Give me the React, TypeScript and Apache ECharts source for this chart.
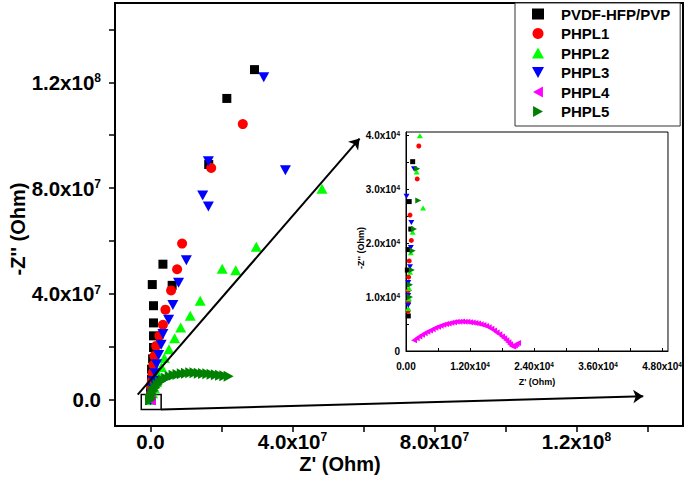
import React, { useEffect, useRef } from "react";
import * as echarts from "echarts";

// ---------- DATA ----------
const seriesNames = ["PVDF-HFP/PVP", "PHPL1", "PHPL2", "PHPL3", "PHPL4", "PHPL5"];

// Main plot points, [Z', -Z''] in units of 1e6 Ohm
const pvdfMain = [[29.3,124.8],[21.5,113.9],[16.4,88.9],[3.5,51.2],[6.1,43.2],[0.5,43.5],[0.85,35.5],[0.85,29.0],[0.85,24.1],[0.85,19.7],[0.6,15.4],[0.3,11.5],[0.3,7.7],[0.1,4.7],[0.0,2.4]];
const phpl1Main = [[26.0,104.2],[17.1,87.6],[8.9,59.0],[7.5,49.3],[5.8,41.3],[4.2,34.0],[3.5,28.3],[2.5,24.1],[1.6,20.3],[1.1,16.5],[0.85,13.1],[0.6,10.0],[0.4,7.0],[0.3,4.3],[0.14,2.4]];
const phpl2Main = [[48.3,79.7],[29.8,57.8],[24.0,48.9],[20.2,49.5],[14.0,37.4],[11.2,31.7],[8.5,27.3],[6.8,23.2],[5.2,19.0],[3.9,15.7],[3.1,12.3],[2.3,9.3],[1.7,6.6],[1.1,4.3],[0.6,2.4]];
const phpl3Main = [[31.9,121.9],[16.3,90.1],[38.0,86.7],[14.7,77.2],[16.3,73.0],[10.1,52.7],[7.9,44.2],[6.3,35.8],[5.1,30.2],[3.5,24.8],[3.0,20.7],[2.3,16.9],[1.7,13.4],[1.3,10.0],[0.85,7.0],[0.6,4.3],[0.3,2.0]];
const phpl4Main: number[][] = [];
const phpl5Main = [[0.2,0.8],[0.5,2.0],[0.9,3.3],[1.4,4.5],[2.0,5.6],[2.7,6.6],[3.5,7.4],[4.4,8.1],[5.4,8.7],[6.5,9.2],[7.6,9.5],[8.8,9.8],[10.0,10.0],[11.2,10.1],[12.4,10.1],[13.6,10.0],[14.8,9.9],[16.0,9.8],[17.2,9.6],[18.4,9.4],[19.6,9.2],[20.8,9.0],[22.0,8.8]];

// Inset points, [Z', -Z''] in units of 1e3 Ohm
const pvdfInset = [[1.25,35.1],[0.6,27.7],[0.9,22.6],[0.43,18.8],[0.25,15.0],[0.43,6.5]];
const phpl1Inset = [[2.4,38.0],[2.1,31.9],[0.75,25.2],[1.0,20.5],[0.6,16.7],[0.5,13.7],[0.43,11.2],[0.43,9.1],[0.4,7.4]];
const phpl2Inset = [[2.6,39.9],[2.0,33.2],[3.2,26.5],[1.25,22.0],[0.9,18.2],[0.75,14.6],[0.6,11.6],[0.56,9.7],[0.43,7.9]];
const phpl3Inset = [[1.5,33.8],[0.1,28.7],[1.0,23.8],[0.9,19.2],[0.75,15.6],[0.43,12.7],[0.43,10.3],[0.43,8.5]];
const phpl4InsetX = [1.5,2.0,2.5,3.0,3.5,4.0,4.5,5.0,5.5,6.0,6.5,7.0,7.5,8.0,8.5,9.0,9.5,10.0,10.5,11.0,11.5,12.0,12.5,13.0,13.5,14.0,14.5,15.0,15.5,16.0,16.5,17.0,17.5,18.0,18.4,18.8,19.2,19.5,19.8,20.1,20.4,20.7,21.0];
const phpl4InsetY = [2.0,2.35,2.7,3.0,3.3,3.55,3.8,4.05,4.3,4.5,4.7,4.85,5.0,5.12,5.25,5.33,5.4,5.43,5.45,5.43,5.4,5.35,5.28,5.2,5.1,4.95,4.8,4.62,4.4,4.12,3.8,3.45,3.1,2.7,2.35,2.0,1.6,1.25,0.95,0.85,1.0,1.25,1.5];
const phpl5Inset = [[2.1,33.8],[2.3,27.9],[1.5,22.6],[1.25,18.6],[1.1,15.0],[0.75,12.3],[0.75,10.0]];

// Tick labels
const mainTickValues = [0, 4e7, 8e7, 1.2e8];
const mainTickLabels = ["0.0", "4.0x10^7", "8.0x10^7", "1.2x10^8"];
const mainTickMarks = [0, 2e7, 4e7, 6e7, 8e7, 1e8, 1.2e8, 1.4e8];
const insetXTickValues = [0, 1.2e4, 2.4e4, 3.6e4, 4.8e4];
const insetXTickLabels = ["0.00", "1.20x10^4", "2.40x10^4", "3.60x10^4", "4.80x10^4"];
const insetXTickMarks = [0, 6e3, 1.2e4, 1.8e4, 2.4e4, 3.0e4, 3.6e4, 4.2e4, 4.8e4];
const insetYTickValues = [0, 1e4, 2e4, 3e4, 4e4];
const insetYTickLabels = ["0", "1.0x10^4", "2.0x10^4", "3.0x10^4", "4.0x10^4"];
const insetYTickMarks = [0, 5e3, 1e4, 1.5e4, 2e4, 2.5e4, 3e4, 3.5e4, 4e4];

// Annotation (arrows and zoom box) in data coordinates (Ohm)
const arrowLines = [
  [[-3.6e6, 1.9e6], [58.9e6, 98.7e6]],
  [[3.0e6, -3.8e6], [138.8e6, 1.26e6]],
];
const zoomBox = [[-2.6e6, 1.9e6], [3.0e6, -3.8e6]];

// ---------- STYLE ----------
const FONT = "'Liberation Sans', Arial, sans-serif";
const colors = ["#000000", "#ff0000", "#00ff00", "#0000ff", "#ff00ff", "#008000"];
const SYM_DOWN = "path://M0,0L10,0L5,9Z";
const SYM_LEFT = "path://M9,0L9,10L0,5Z";
const SYM_RIGHT = "path://M0,0L9,5L0,10Z";
const symbols = ["rect", "circle", "triangle", SYM_DOWN, SYM_LEFT, SYM_RIGHT];
const mainSizes: any[] = [9, 10, [11, 10], [11, 10], [10, 11], [10, 11]];
const insetSizes: any[] = [5, 5, [6, 5], [6, 5], [6, 6], [6, 6]];

const scale = (arr: number[][], f: number) => arr.map(([x, y]) => [x * f, y * f]);

function richLabel(s: string) {
  const [m, e] = s.split("^");
  return e ? `{m|${m}}{e|${e}}` : `{m|${m}}`;
}
function makeFormatter(vals: number[], labels: string[]) {
  return (v: number) => {
    const i = vals.findIndex((t) => Math.abs(t - v) < 1e-3 * Math.max(1, Math.abs(t)));
    return i >= 0 ? richLabel(labels[i]) : "";
  };
}

export default function App() {
  const ref = useRef<HTMLDivElement>(null);
  useEffect(() => {
    if (!ref.current) return;
    const chart = echarts.init(ref.current, null, { renderer: "svg" });

    const phpl4Inset = phpl4InsetX.map((x, i) => [x, phpl4InsetY[i]]);
    const mains = [pvdfMain, phpl1Main, phpl2Main, phpl3Main, phpl4Main, phpl5Main];
    const insets = [pvdfInset, phpl1Inset, phpl2Inset, phpl3Inset, phpl4Inset, phpl5Inset];
    const combined = mains.map((m, i) => [...scale(m, 1e6), ...scale(insets[i], 1e3)]);

    const mainRich = {
      m: { fontSize: 20.5, fontWeight: "bold", fontFamily: FONT, color: "#000", lineHeight: 20 },
      e: { fontSize: 12, fontWeight: "bold", fontFamily: FONT, color: "#000", lineHeight: 12, verticalAlign: "top" },
    };
    const insetRich = {
      m: { fontSize: 10, fontWeight: "bold", fontFamily: FONT, color: "#000", lineHeight: 11 },
      e: { fontSize: 6.5, fontWeight: "bold", fontFamily: FONT, color: "#000", lineHeight: 7, verticalAlign: "top" },
    };

    const series: any[] = [];
    seriesNames.forEach((name, i) => {
      series.push({
        type: "scatter", name, xAxisIndex: 0, yAxisIndex: 0,
        symbol: symbols[i], symbolSize: mainSizes[i],
        itemStyle: { color: colors[i], opacity: 1 },
        data: combined[i], clip: true, silent: true,
      });
    });
    seriesNames.forEach((name, i) => {
      series.push({
        type: "scatter", name, xAxisIndex: 1, yAxisIndex: 1,
        symbol: symbols[i], symbolSize: insetSizes[i],
        itemStyle: { color: colors[i], opacity: 1 },
        data: combined[i], clip: true, silent: true,
      });
    });
    series.push({
      type: "scatter", name: "annotation", xAxisIndex: 0, yAxisIndex: 0, data: [], silent: true,
      markLine: {
        silent: true, symbol: ["none", "arrow"], symbolSize: 10,
        lineStyle: { color: "#000", width: 2, type: "solid" },
        label: { show: false },
        data: arrowLines.map(([a, b]) => [{ coord: a }, { coord: b }]),
      },
      markArea: {
        silent: true,
        itemStyle: { color: "rgba(0,0,0,0)", borderColor: "#000", borderWidth: 1.5 },
        label: { show: false },
        data: [[{ coord: zoomBox[0] }, { coord: zoomBox[1] }]],
      },
    });

    const mainAxisCommon = (isX: boolean) => ({
      type: "value", gridIndex: 0, min: -1e7, max: 1.5e8,
      splitLine: { show: false },
      axisLine: { show: true, onZero: false, lineStyle: { color: "#000", width: 2 } },
      axisTick: { show: true, inside: false, length: 6, customValues: mainTickMarks, lineStyle: { color: "#000", width: 1.5 } },
      axisLabel: {
        show: true, customValues: mainTickValues, margin: isX ? 5 : 14,
        formatter: makeFormatter(mainTickValues, mainTickLabels), rich: mainRich,
      },
    });

    const option: any = {
      animation: false,
      backgroundColor: "#fff",
      grid: [
        { left: 115, top: 3, width: 568, height: 423, show: true, borderColor: "#000", borderWidth: 2, backgroundColor: "transparent" },
        { left: 406, top: 132, width: 264, height: 219, show: true, borderColor: "#000", borderWidth: 1, backgroundColor: "transparent" },
      ],
      xAxis: [
        mainAxisCommon(true),
        {
          type: "value", gridIndex: 1, min: 0, max: 4.91e4,
          splitLine: { show: false },
          axisLine: { show: true, onZero: false, lineStyle: { color: "#000", width: 1 } },
          axisTick: { show: true, inside: true, length: 3, customValues: insetXTickMarks, lineStyle: { color: "#000", width: 1 } },
          axisLabel: { show: true, customValues: insetXTickValues, margin: 10, formatter: makeFormatter(insetXTickValues, insetXTickLabels), rich: insetRich },
        },
      ],
      yAxis: [
        mainAxisCommon(false),
        {
          type: "value", gridIndex: 1, min: 0, max: 4.06e4,
          splitLine: { show: false },
          axisLine: { show: true, onZero: false, lineStyle: { color: "#000", width: 1 } },
          axisTick: { show: true, inside: true, length: 3, customValues: insetYTickMarks, lineStyle: { color: "#000", width: 1 } },
          axisLabel: { show: true, customValues: insetYTickValues, margin: 6, formatter: makeFormatter(insetYTickValues, insetYTickLabels), rich: insetRich },
        },
      ],
      legend: {
        orient: "vertical", left: 515, top: 3,
        padding: [3.5, 10, 7, 17], itemGap: 4.5, itemWidth: 12, itemHeight: 11,
        backgroundColor: "#fff", borderColor: "#333", borderWidth: 1,
        textStyle: { fontSize: 15, fontWeight: "bold", fontFamily: FONT, color: "#000", lineHeight: 15, padding: [0, 0, 0, 12] },
        selectedMode: false,
        data: seriesNames.map((name, i) => ({ name, icon: symbols[i], itemStyle: { color: colors[i] } })),
      },
      graphic: [
        { type: "text", x: 340, y: 464, style: { text: "Z' (Ohm)", font: `bold 20px ${FONT}`, fill: "#000", align: "center", verticalAlign: "middle" } },
        { type: "text", x: 18, y: 229, rotation: Math.PI / 2, style: { text: "-Z'' (Ohm)", font: `bold 20px ${FONT}`, fill: "#000", align: "center", verticalAlign: "middle" } },
        { type: "text", x: 537, y: 382, style: { text: "Z' (Ohm)", font: `bold 9px ${FONT}`, fill: "#000", align: "center", verticalAlign: "middle" } },
        { type: "text", x: 361, y: 248, rotation: Math.PI / 2, style: { text: "-Z'' (Ohm)", font: `bold 9px ${FONT}`, fill: "#000", align: "center", verticalAlign: "middle" } },
      ],
      series,
    };
    chart.setOption(option);
    return () => chart.dispose();
  }, []);
  return <div ref={ref} style={{ position: "fixed", left: 0, top: 0, width: 685, height: 500 }} />;
}
